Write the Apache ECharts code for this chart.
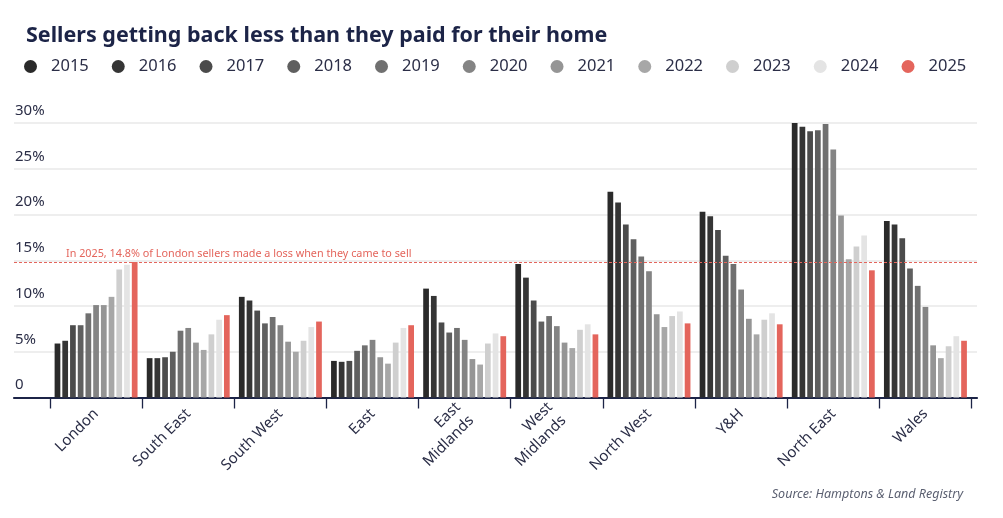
<!DOCTYPE html>
<html>
<head>
<meta charset="utf-8">
<script src="https://cdn.jsdelivr.net/npm/echarts@6/dist/echarts.min.js"></script>
<style>
html,body{margin:0;padding:0;background:#fff;}
#chart{width:1003px;height:518px;}
</style>
</head>
<body>
<div id="chart"></div>
<script>
var categories = ['London','South East','South West','East','East\nMidlands','West\nMidlands','North West','Y&H','North East','Wales'];
var years = ['2015','2016','2017','2018','2019','2020','2021','2022','2023','2024','2025'];
var v2015 = [5.9, 4.3, 11.0, 4.0, 11.9, 14.6, 22.5, 20.3, 30.0, 19.3];
var v2016 = [6.2, 4.3, 10.6, 3.9, 11.1, 13.1, 21.3, 19.8, 29.6, 18.9];
var v2017 = [7.9, 4.4, 9.5, 4.0, 8.2, 10.6, 18.9, 18.3, 29.1, 17.4];
var v2018 = [7.9, 5.0, 8.1, 5.1, 7.1, 8.3, 17.3, 15.5, 29.2, 14.1];
var v2019 = [9.2, 7.3, 8.8, 5.7, 7.6, 8.9, 15.4, 14.6, 29.9, 12.2];
var v2020 = [10.1, 7.6, 7.9, 6.3, 6.3, 7.8, 13.8, 11.8, 27.1, 9.9];
var v2021 = [10.1, 6.0, 6.1, 4.4, 4.2, 6.0, 9.1, 8.6, 19.9, 5.7];
var v2022 = [11.0, 5.2, 5.0, 3.7, 3.6, 5.4, 7.7, 6.9, 15.1, 4.3];
var v2023 = [14.0, 6.9, 6.2, 6.0, 5.9, 7.4, 8.9, 8.5, 16.5, 5.6];
var v2024 = [14.5, 8.5, 7.7, 7.6, 7.0, 8.0, 9.4, 9.2, 17.7, 6.7];
var v2025 = [14.8, 9.0, 8.3, 7.9, 6.7, 6.9, 8.1, 8.0, 13.9, 6.2];
var yTicks = [0, 5, 10, 15, 20, 25, 30];
var londonLoss2025 = 14.8;
var annotationText = 'In 2025, 14.8% of London sellers made a loss when they came to sell';

var seriesValues = [v2015, v2016, v2017, v2018, v2019, v2020, v2021, v2022, v2023, v2024, v2025];
var colors = ['#2a2a2a','#353535','#4b4b4b','#5f5f5f','#707070','#848484','#959595','#a7a7a7','#cfcfcf','#e4e4e4','#e4655c'];
var FONT = 'Noto Sans';
var NAVY = '#1c2447';
var TXT = '#2b2e47';

var series = years.map(function (y, i) {
  return {
    name: y, type: 'bar', xAxisIndex: 0, yAxisIndex: 0,
    data: seriesValues[i],
    itemStyle: { color: colors[i] },
    barGap: '35%', barCategoryGap: '10%',
    z: 3
  };
});
series.push({
  name: 'ref', type: 'line', xAxisIndex: 1, yAxisIndex: 1, data: [],
  silent: true,
  markLine: {
    symbol: ['none','none'], silent: true,
    lineStyle: { color: '#e4655c', type: [3, 2], width: 1.2 },
    label: {
      show: true, position: 'insideStartTop', formatter: annotationText,
      color: '#e4655c', fontFamily: FONT, fontSize: 10.8, distance: [52, 3]
    },
    data: [{ yAxis: londonLoss2025 }]
  }
});

var chart = echarts.init(document.getElementById('chart'), null, { renderer: 'canvas' });
chart.setOption({
  animation: false,
  backgroundColor: '#ffffff',
  title: [{
    text: 'Sellers getting back less than they paid for their home',
    left: 21, top: 20,
    textStyle: { fontFamily: FONT, fontWeight: 'bold', fontSize: 21.5, color: NAVY }
  }, {
    text: 'Source: Hamptons & Land Registry',
    right: 35, top: 483,
    textStyle: { fontFamily: FONT, fontStyle: 'italic', fontWeight: 'normal', fontSize: 12.5, color: '#5a5f70' }
  }],
  legend: {
    data: years, left: 19, top: 53, icon: 'circle', itemWidth: 13, itemHeight: 13, itemGap: 23,
    textStyle: { fontFamily: FONT, fontSize: 16.5, color: TXT, padding: [0, 0, 0, 9] }
  },
  grid: [
    { left: 50, right: 31.5, top: 123, bottom: 120.5 },
    { left: 14, right: 26, top: 123, bottom: 120.5 }
  ],
  xAxis: [{
    type: 'category', gridIndex: 0, data: categories,
    axisLine: { show: false },
    axisTick: { show: true, length: 11, lineStyle: { color: NAVY, width: 1.3 } },
    axisLabel: { rotate: 45, margin: 14, fontFamily: FONT, fontSize: 15, color: TXT, lineHeight: 19, interval: 0 }
  }, {
    type: 'value', gridIndex: 1, min: 0, max: 1,
    axisLine: { show: true, lineStyle: { color: NAVY, width: 2.2 } },
    axisTick: { show: false }, axisLabel: { show: false }, splitLine: { show: false }
  }],
  yAxis: [{
    type: 'value', gridIndex: 0, min: 0, max: 30, interval: 5, show: false
  }, {
    type: 'value', gridIndex: 1, min: 0, max: 30, interval: 5,
    axisLine: { show: false }, axisTick: { show: false },
    splitLine: { show: true, lineStyle: { color: '#e8e8e8', width: 1.5 } },
    axisLabel: {
      inside: true, margin: 1, verticalAlign: 'bottom', padding: [0, 0, 5, 0],
      fontFamily: FONT, fontSize: 15, color: TXT,
      formatter: function (v) { return yTicks.indexOf(v) < 0 ? '' : (v === 0 ? '0' : v + '%'); }
    }
  }],
  series: series
});
</script>
</body>
</html>
